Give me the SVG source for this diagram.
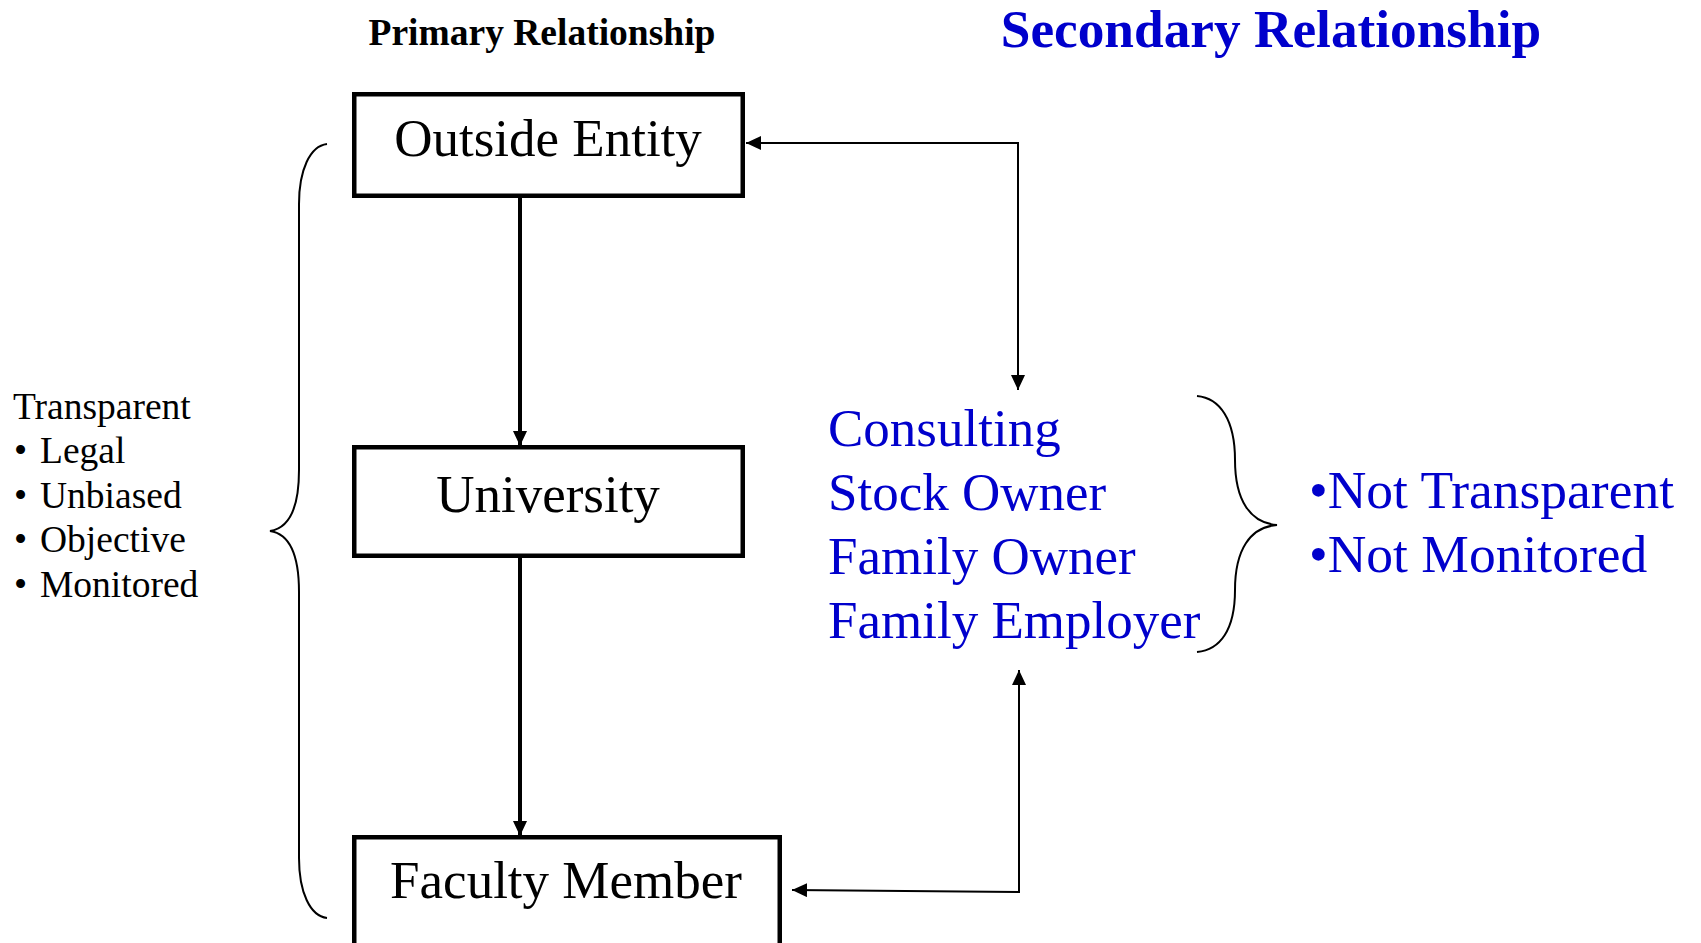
<svg xmlns="http://www.w3.org/2000/svg" width="1701" height="943" viewBox="0 0 1701 943">
<style>
.box{fill:#fff;stroke:#000;stroke-width:4.5}
.t{font-family:"Liberation Serif","Times New Roman",serif}
.big{font-size:53px}
.blue{fill:#0000CC}
.lst{font-size:37.5px;fill:#000}
.main{stroke:#000;stroke-width:4;fill:none}
.thin{stroke:#000;stroke-width:2;fill:none}
.brace{stroke:#000;stroke-width:2;fill:none}
</style>
<defs>
<marker id="ah" markerUnits="userSpaceOnUse" markerWidth="16" markerHeight="15" refX="15" refY="7" orient="auto">
<path d="M0,0 L15,7 L0,14 z" fill="#000"/>
</marker>
</defs>
<rect width="1701" height="943" fill="#fff"/>
<g id="titles">
<text class="t" x="542" y="45" text-anchor="middle" font-weight="bold" font-size="37.5">Primary Relationship</text>
<text class="t blue" x="1271" y="47" text-anchor="middle" font-weight="bold" font-size="53.3">Secondary Relationship</text>
</g>
<g id="connectors">
<line class="main" x1="520" y1="198" x2="520" y2="446" marker-end="url(#ah)"/>
<line class="main" x1="520" y1="558" x2="520" y2="836" marker-end="url(#ah)"/>
<polyline class="thin" points="1018,143 746,143" marker-end="url(#ah)"/>
<polyline class="thin" points="1018,142 1018,390" marker-end="url(#ah)"/>
<polyline class="thin" points="1019,893 1019,670" marker-end="url(#ah)"/>
<polyline class="thin" points="1020,892 792,890" marker-end="url(#ah)"/>
</g>
<g id="outside-entity">
<rect class="box" x="354.25" y="94.25" width="388.5" height="101.5"/>
<text class="t big" x="548" y="156" text-anchor="middle">Outside Entity</text>
</g>
<g id="university">
<rect class="box" x="354.25" y="447.25" width="388.5" height="108.5"/>
<text class="t big" x="548" y="512" text-anchor="middle">University</text>
</g>
<g id="faculty-member">
<rect class="box" x="354.25" y="837.25" width="425.5" height="200"/>
<text class="t big" x="566" y="898" text-anchor="middle">Faculty Member</text>
</g>
<g id="primary-brace">
<path class="brace" d="M327,144 C310,146 299,170 299,204 L299,470 C299,505 290,528 270,531 C290,534 299,557 299,592 L299,858 C299,892 310,916 327,918"/>
<text class="t lst" x="13" y="419">Transparent</text>
<text class="t lst" y="463"><tspan x="14">•</tspan><tspan x="40">Legal</tspan></text>
<text class="t lst" y="507.5"><tspan x="14">•</tspan><tspan x="40">Unbiased</tspan></text>
<text class="t lst" y="552"><tspan x="14">•</tspan><tspan x="40">Objective</tspan></text>
<text class="t lst" y="597"><tspan x="14">•</tspan><tspan x="40">Monitored</tspan></text>
</g>
<g id="secondary-list">
<text class="t big blue" x="828" y="446">Consulting</text>
<text class="t big blue" x="828" y="510">Stock Owner</text>
<text class="t big blue" x="828" y="574">Family Owner</text>
<text class="t big blue" x="828" y="638">Family Employer</text>
</g>
<g id="secondary-brace">
<path class="brace" d="M1197,396 C1220,398 1235,420 1235,460 C1235,500 1250,523 1277,525 C1250,527 1235,550 1235,590 C1235,630 1220,650 1197,652"/>
<text class="t blue" x="1309" y="508" font-size="53.5">•Not Transparent</text>
<text class="t blue" x="1309" y="572" font-size="53.5">•Not Monitored</text>
</g>
</svg>
